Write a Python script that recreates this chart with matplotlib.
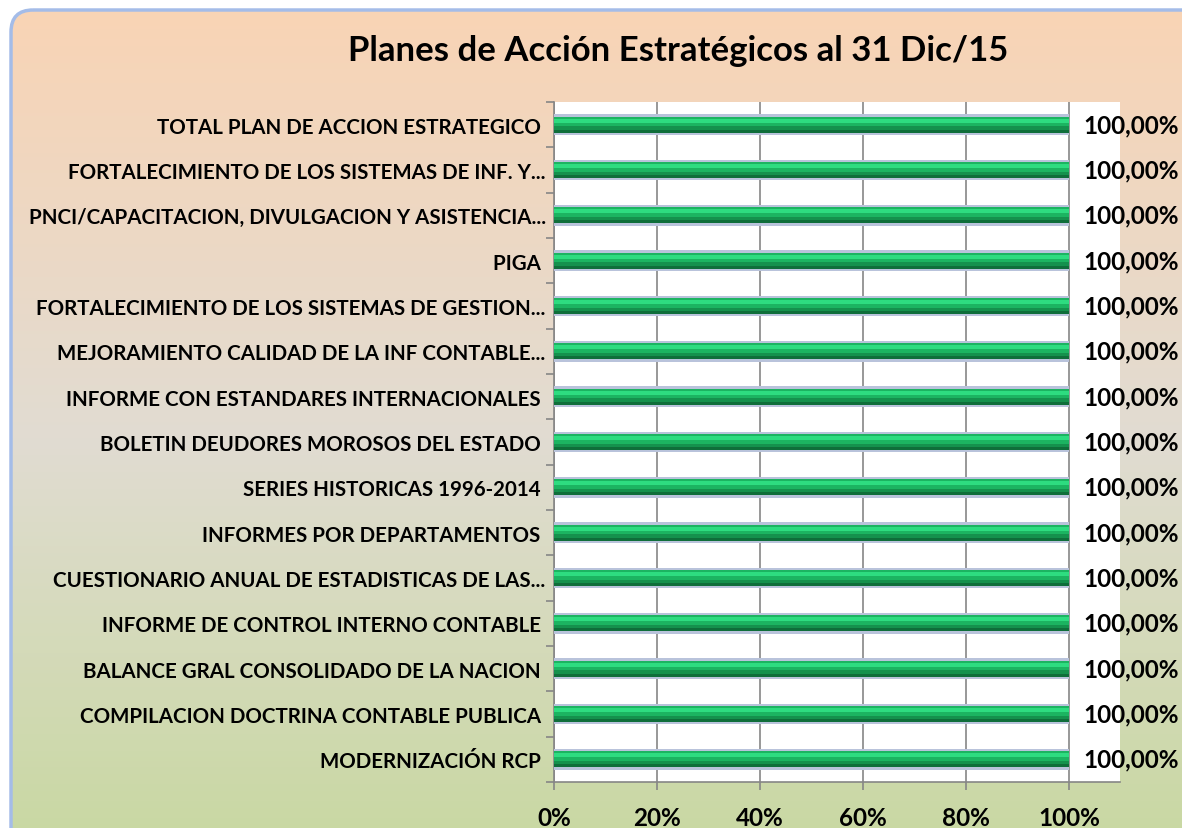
import numpy as np
import matplotlib
matplotlib.use("Agg")
import matplotlib.pyplot as plt
from matplotlib.patches import FancyBboxPatch
from matplotlib.colors import LinearSegmentedColormap

# ==========================================================
# Data
# ==========================================================

categories = [
    "TOTAL PLAN DE ACCION ESTRATEGICO ",
    "FORTALECIMIENTO DE LOS SISTEMAS DE INF. Y...",
    "PNCI/CAPACITACION, DIVULGACION Y ASISTENCIA...",
    "PIGA ",
    "FORTALECIMIENTO DE LOS SISTEMAS DE GESTION...",
    "MEJORAMIENTO CALIDAD DE LA INF CONTABLE...",
    "INFORME CON ESTANDARES INTERNACIONALES ",
    "BOLETIN DEUDORES MOROSOS DEL ESTADO ",
    "SERIES HISTORICAS 1996-2014 ",
    "INFORMES POR DEPARTAMENTOS ",
    "CUESTIONARIO ANUAL DE ESTADISTICAS DE LAS...",
    "INFORME DE CONTROL INTERNO CONTABLE ",
    "BALANCE GRAL CONSOLIDADO DE LA NACION ",
    "COMPILACION DOCTRINA CONTABLE PUBLICA ",
    "MODERNIZACIÓN RCP ",
]

values = [1.0] * 15

value_labels = ["100,00%"] * 15

x_ticks = [0, 0.2, 0.4, 0.6, 0.8, 1.0]
x_tick_labels = ["0%", "20%", "40%", "60%", "80%", "100%"]

title = "Planes de Acción Estratégicos al 31 Dic/15"

# ==========================================================
# Figure + background
# ==========================================================

W, H = 1182, 829

plt.rcParams["font.family"] = ["Lato", "DejaVu Sans"]
plt.rcParams["font.weight"] = "bold"

fig = plt.figure(figsize=(W / 100, H / 100), dpi=100)
fig.patch.set_facecolor("white")

bg = fig.add_axes([0, 0, 1, 1])
bg.set_xlim(0, W)
bg.set_ylim(H, 0)
bg.axis("off")

grad_cmap = LinearSegmentedColormap.from_list(
    "bg",
    [(0.0, "#F9D4B5"), (0.5, "#E1DCD2"), (1.0, "#C7D89F")],
)

grad = np.linspace(0, 1, 256).reshape(-1, 1)

img = bg.imshow(
    grad,
    cmap=grad_cmap,
    extent=[10, W + 40, H + 40, 10],
    aspect="auto",
    zorder=0,
)

box = FancyBboxPatch(
    (11, 11),
    W + 20,
    H + 20,
    boxstyle="round,pad=0,rounding_size=22",
    facecolor="none",
    edgecolor="#A4BCE8",
    linewidth=2.5,
    zorder=1,
)
bg.add_patch(box)
img.set_clip_path(box)

# ==========================================================
# Plot area
# ==========================================================

left_px, right_px = 554, 1120
top_px, bottom_px = 103, 783

ax = fig.add_axes([
    left_px / W,
    1 - bottom_px / H,
    (right_px - left_px) / W,
    (bottom_px - top_px) / H,
])

ax.set_facecolor("white")

x_max = (right_px - left_px) / 515.0
ax.set_xlim(0, x_max)

y = np.arange(len(categories))
ax.set_ylim(len(categories) - 0.5, -0.5)

# bar layers (visual top = smaller y)
ax.barh(y, values, height=0.46, color="#B9C3DB", zorder=3)
ax.barh(y, values, height=0.36, color="#1CB461", zorder=4)
ax.barh(y - 0.09, values, height=0.09, color="#2EDC80", zorder=5)
ax.barh(y + 0.075, values, height=0.07, color="#15914D", zorder=5)
ax.barh(y + 0.145, values, height=0.07, color="#0F6E3A", zorder=5)

for yi, v, lab in zip(y, values, value_labels):
    ax.text(
        v + 0.028,
        yi,
        lab,
        va="center",
        ha="left",
        fontsize=17.5,
        fontweight="bold",
        color="black",
        zorder=6,
    )

ax.set_yticks(y)
ax.set_yticklabels(categories, fontsize=14.8, fontweight="bold")
ax.tick_params(axis="y", which="major", length=0, pad=6)

ax.set_yticks(np.arange(-0.5, len(categories), 1.0), minor=True)
ax.tick_params(axis="y", which="minor", length=6, color="#868686", width=1.2)

ax.set_xticks(x_ticks)
ax.set_xticklabels(x_tick_labels, fontsize=17.5, fontweight="bold")
ax.tick_params(axis="x", length=6, color="#868686", width=1.2, pad=11)

ax.grid(axis="x", color="#868686", linewidth=1.2, zorder=1)
ax.set_axisbelow(True)

for side in ["top", "right"]:
    ax.spines[side].set_visible(False)

for side in ["left", "bottom"]:
    ax.spines[side].set_color("#868686")
    ax.spines[side].set_linewidth(1.2)

fig.text(
    678 / W,
    1 - 51 / H,
    title,
    ha="center",
    va="center",
    fontsize=25,
    fontweight="bold",
)

fig.savefig("out.png", dpi=100)
